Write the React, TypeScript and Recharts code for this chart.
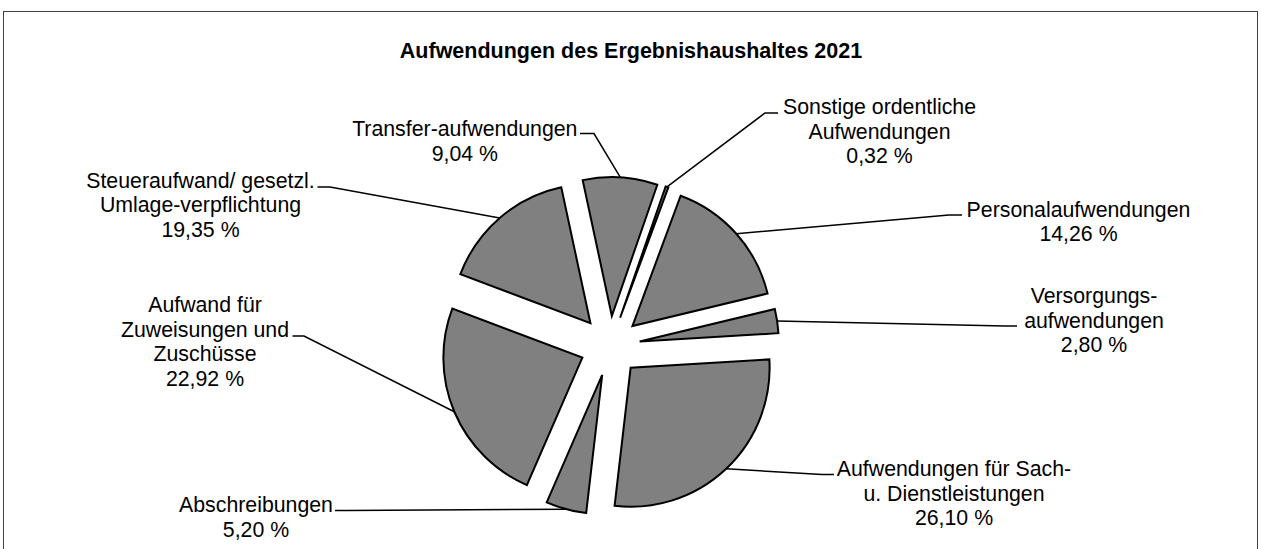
import React from "react";
import { Pie, PieChart, Sector } from "recharts";

// slices, clockwise from "Personalaufwendungen"
const categories = [
  "Personalaufwendungen",
  "Versorgungsaufwendungen",
  "Aufwendungen für Sach- u. Dienstleistungen",
  "Abschreibungen",
  "Aufwand für Zuweisungen und Zuschüsse",
  "Steueraufwand/ gesetzl. Umlage-verpflichtung",
  "Transfer-aufwendungen",
  "Sonstige ordentliche Aufwendungen",
];

// slice sizes as drawn in the picture (percent of the circle)
const shares = [15.6, 2.8, 27.8, 4.7, 24.2, 15.9, 8.67, 0.33];

// percentages as printed in the labels
const percentLabels = [
  "14,26 %",
  "2,80 %",
  "26,10 %",
  "5,20 %",
  "22,92 %",
  "19,35 %",
  "9,04 %",
  "0,32 %",
];

const labelLines: string[][] = [
  ["Personalaufwendungen"],
  ["Versorgungs-", "aufwendungen"],
  ["Aufwendungen für Sach-", "u. Dienstleistungen"],
  ["Abschreibungen"],
  ["Aufwand für", "Zuweisungen und", "Zuschüsse"],
  ["Steueraufwand/ gesetzl.", "Umlage-verpflichtung"],
  ["Transfer-aufwendungen"],
  ["Sonstige ordentliche", "Aufwendungen"],
];

// where each label box sits (text centre, first baseline, leader stub)
type LabelSpot = { x: number; y: number; stubFrom: number; stubTo: number; stubY: number };
const labelSpots: LabelSpot[] = [
  { x: 1078.5, y: 216.5, stubFrom: 949, stubTo: 962, stubY: 215 },
  { x: 1094, y: 303, stubFrom: 1005, stubTo: 1017, stubY: 326 },
  { x: 954, y: 476, stubFrom: 822, stubTo: 834, stubY: 474.5 },
  { x: 256, y: 512, stubFrom: 347, stubTo: 335, stubY: 510.5 },
  { x: 205, y: 312, stubFrom: 304, stubTo: 292.5, stubY: 336 },
  { x: 200.5, y: 187.5, stubFrom: 330, stubTo: 317.5, stubY: 187 },
  { x: 464.8, y: 136, stubFrom: 594, stubTo: 580, stubY: 133.5 },
  { x: 879.5, y: 114, stubFrom: 765, stubTo: 778, stubY: 113 },
];

const data = categories.map((name, i) => ({ name, value: shares[i] }));

const RAD = Math.PI / 180;
const EXPLODE = 30;
const FONT = "'Liberation Sans', Arial, sans-serif";

function ExplodedSector(props: any) {
  const { cx, cy, midAngle } = props;
  const dx = EXPLODE * Math.cos(-midAngle * RAD);
  const dy = EXPLODE * Math.sin(-midAngle * RAD);
  return (
    <Sector
      {...props}
      cx={cx + dx}
      cy={cy + dy}
      fill="#808080"
      stroke="#000"
      strokeWidth={2}
      strokeLinejoin="miter"
    />
  );
}

function renderLabel(props: any) {
  const { cx, cy, midAngle, outerRadius, index } = props;
  const r = outerRadius + EXPLODE;
  const ax = cx + r * Math.cos(-midAngle * RAD);
  const ay = cy + r * Math.sin(-midAngle * RAD);
  const spot = labelSpots[index];
  const lines = [...labelLines[index], percentLabels[index]];
  return (
    <g key={`lbl-${index}`}>
      <polyline
        points={`${ax},${ay} ${spot.stubFrom},${spot.stubY} ${spot.stubTo},${spot.stubY}`}
        fill="none"
        stroke="#000"
        strokeWidth={1.5}
      />
      <text
        x={spot.x}
        y={spot.y}
        textAnchor="middle"
        fontFamily={FONT}
        fontSize={21.3}
        fill="#000"
      >
        {lines.map((l, k) => (
          <tspan key={k} x={spot.x} dy={k === 0 ? 0 : 24.5}>
            {l}
          </tspan>
        ))}
      </text>
    </g>
  );
}

export default function App() {
  return (
    <div
      style={{
        position: "absolute",
        left: 0,
        top: 0,
        width: 1261,
        height: 549,
        overflow: "hidden",
        background: "#fff",
      }}
    >
      <div
        style={{
          position: "absolute",
          left: 3,
          top: 11,
          width: 1255,
          height: 600,
          border: "1px solid #404040",
          boxSizing: "border-box",
        }}
      />
      <div style={{ position: "absolute", left: 0, top: 0 }}>
        <PieChart width={1261} height={549} margin={{ top: 0, right: 0, bottom: 0, left: 0 }}>
          <text
            x={631}
            y={58}
            textAnchor="middle"
            fontFamily={FONT}
            fontSize={21.5}
            fontWeight="bold"
            fill="#000"
          >
            Aufwendungen des Ergebnishaushaltes 2021
          </text>
          <Pie
            data={data}
            dataKey="value"
            nameKey="name"
            cx={610}
            cy={346}
            innerRadius={0}
            outerRadius={139}
            startAngle={69.7}
            endAngle={-290.3}
            paddingAngle={0}
            shape={ExplodedSector}
            activeShape={ExplodedSector}
            inactiveShape={ExplodedSector}
            label={renderLabel}
            labelLine={false}
            isAnimationActive={false}
          />
        </PieChart>
      </div>
    </div>
  );
}
